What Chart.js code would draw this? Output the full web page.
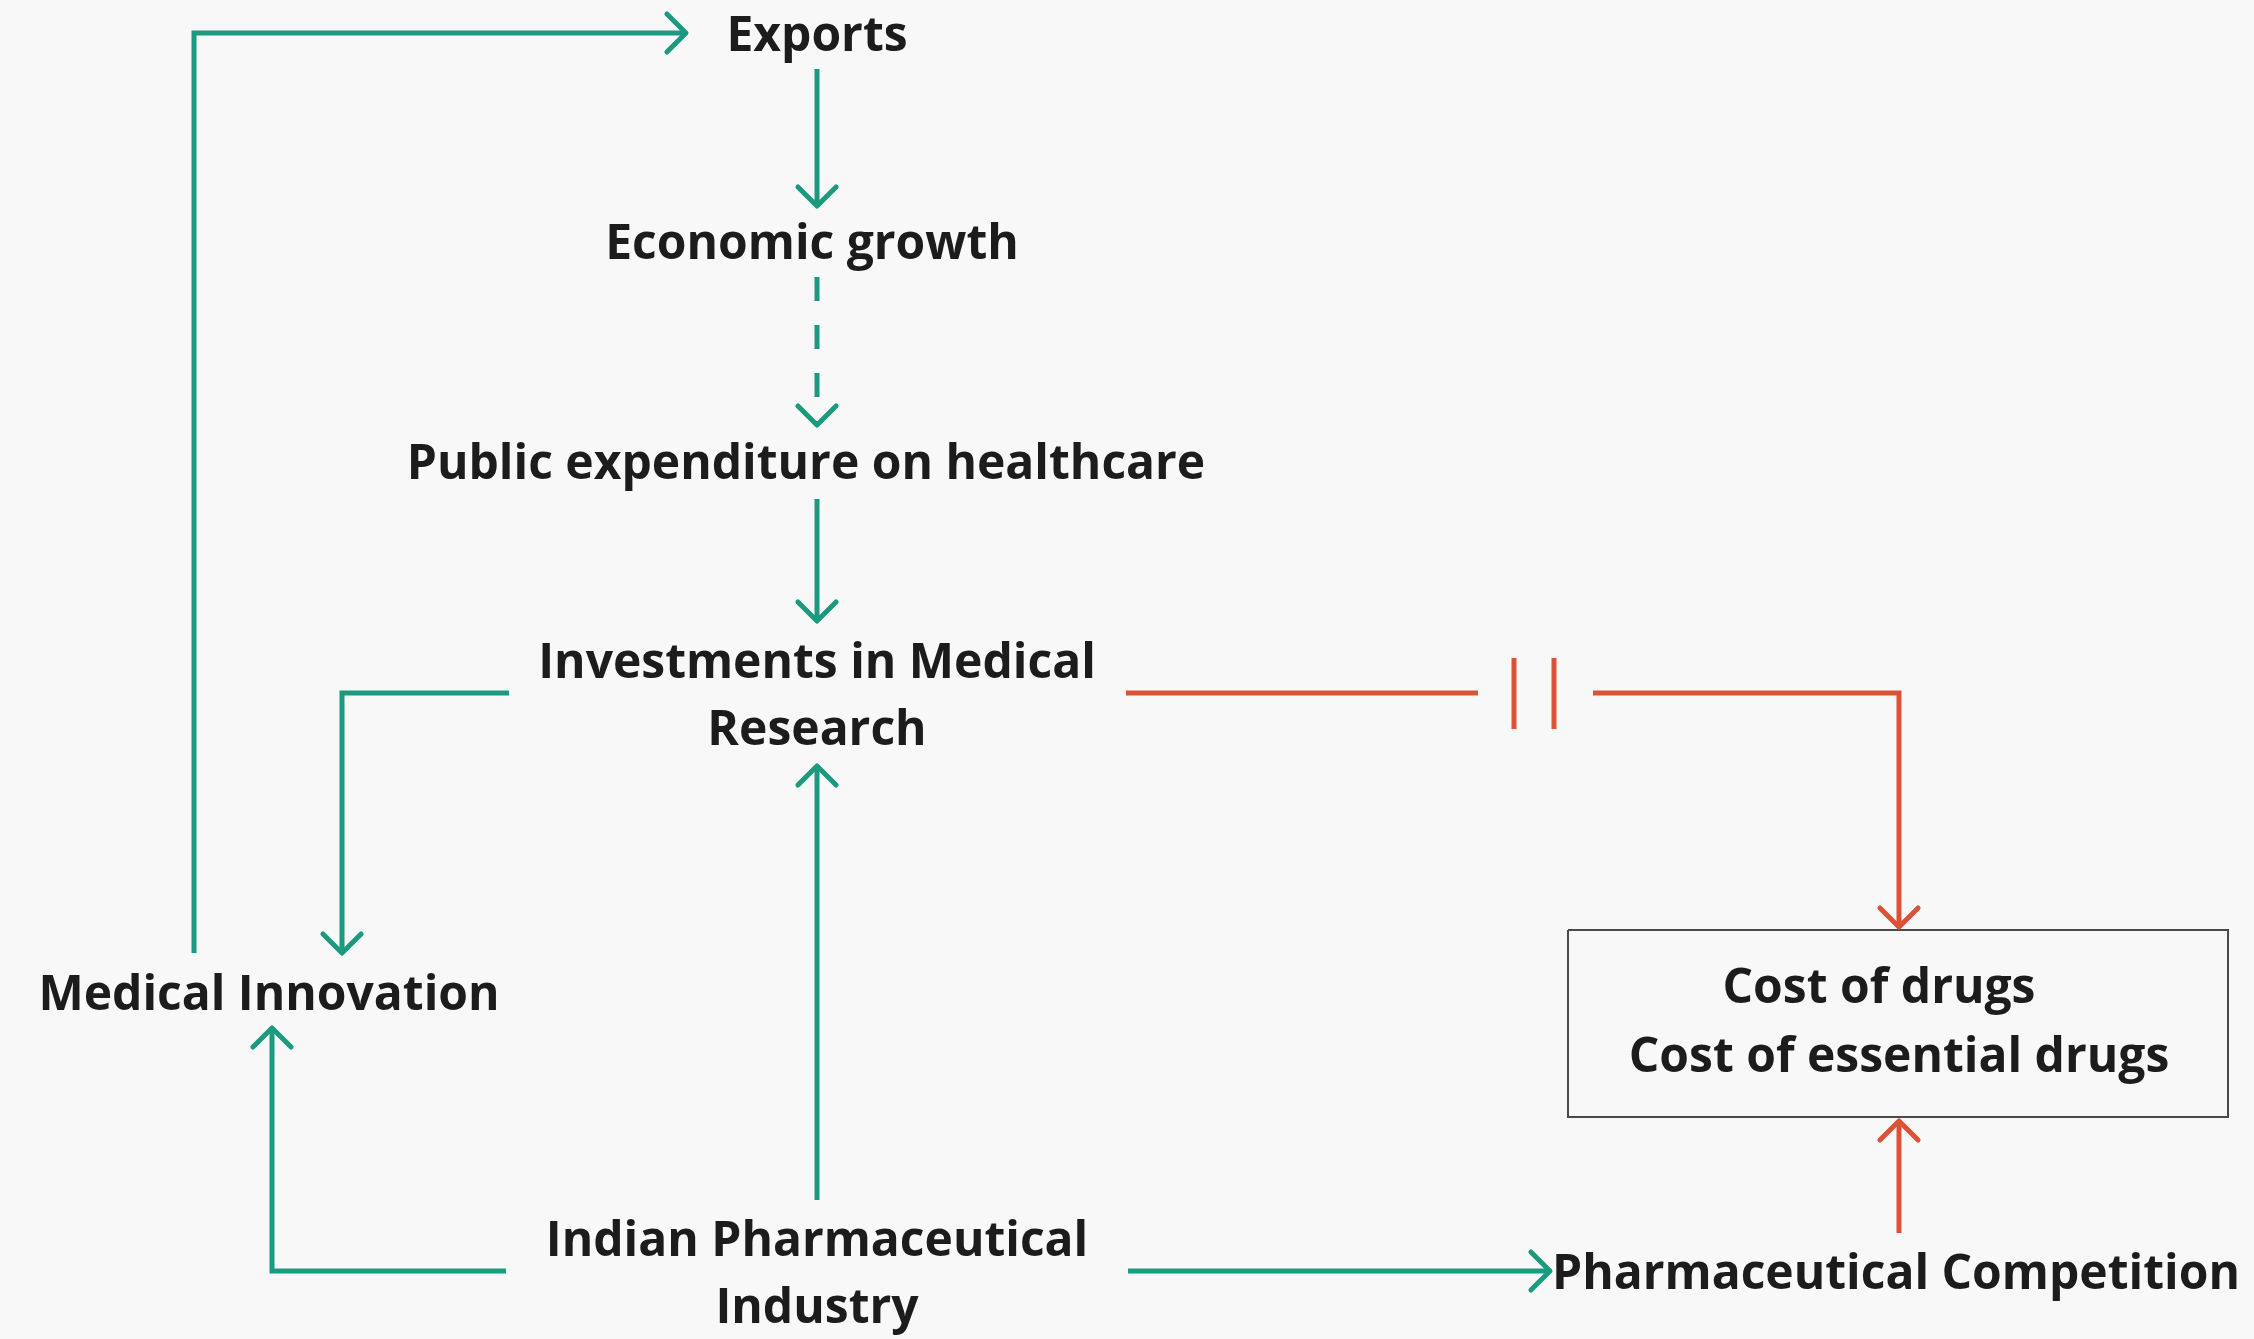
<!DOCTYPE html>
<html>
<head>
<meta charset="utf-8">
<script src="https://cdn.jsdelivr.net/npm/chart.js@4"></script>
<style>
  html, body { margin: 0; padding: 0; background: #f8f8f8; }
  canvas { display: block; }
</style>
</head>
<body>
<canvas id="diagram" width="2254" height="1339"></canvas>
<script>
// node labels (diagram units = reference pixels)
const labelText = [
  'Exports', 'Economic growth', 'Public expenditure on healthcare',
  'Investments in Medical', 'Research', 'Medical Innovation',
  'Cost of drugs', 'Cost of essential drugs',
  'Indian Pharmaceutical', 'Industry', 'Pharmaceutical Competition',
];
const labelX = [817, 812, 806, 817, 817, 269, 1879, 1899, 817, 817, 1896];
const labelY = [37, 245, 465, 664, 731, 996, 989, 1058, 1242, 1309, 1275];

// connectors
const innovationToExports = [[194, 953], [194, 33], [686, 33]];
const exportsToGrowth = [[817, 69], [817, 206]];
const growthToSpending = [[817, 277], [817, 425]];
const spendingToResearch = [[817, 499], [817, 621]];
const researchToInnovation = [[509, 693], [342, 693], [342, 953]];
const industryToResearch = [[817, 1200], [817, 766]];
const industryToInnovation = [[506, 1271], [272, 1271], [272, 1028]];
const industryToCompetition = [[1128, 1271], [1550, 1271]];
const researchToCostA = [[1126, 693], [1478, 693]];
const researchToCostB = [[1593, 693], [1899, 693], [1899, 927]];
const delayMarkA = [[1514, 658], [1514, 729]];
const delayMarkB = [[1554, 658], [1554, 729]];
const competitionToCost = [[1899, 1233], [1899, 1121]];
const costBox = [[1568, 930], [2228, 930], [2228, 1117], [1568, 1117], [1568, 930]];

const GREEN = '#1b9a80';
const RED = '#dc5236';
const TEXT = '#1c1c1c';

function toPoints(path) {
  return path.map(([x, y]) => ({ x, y }));
}

function link(path, color, opts = {}) {
  return {
    data: toPoints(path),
    showLine: true,
    borderColor: color,
    borderWidth: opts.width || 5,
    borderDash: opts.dash || [],
    pointRadius: 0,
    fill: false,
    arrow: opts.arrow !== false,
  };
}

const arrowPlugin = {
  id: 'arrows',
  afterDatasetsDraw(chart) {
    const { ctx, scales: { x, y } } = chart;
    chart.data.datasets.forEach(ds => {
      if (!ds.arrow) return;
      const n = ds.data.length;
      const a = ds.data[n - 2];
      const b = ds.data[n - 1];
      const ax = x.getPixelForValue(a.x), ay = y.getPixelForValue(a.y);
      const bx = x.getPixelForValue(b.x), by = y.getPixelForValue(b.y);
      const ang = Math.atan2(by - ay, bx - ax);
      const arm = 27;
      ctx.save();
      ctx.strokeStyle = ds.borderColor;
      ctx.lineWidth = ds.borderWidth;
      ctx.lineCap = 'round';
      ctx.lineJoin = 'round';
      ctx.beginPath();
      ctx.moveTo(bx - arm * Math.cos(ang - Math.PI / 4), by - arm * Math.sin(ang - Math.PI / 4));
      ctx.lineTo(bx, by);
      ctx.lineTo(bx - arm * Math.cos(ang + Math.PI / 4), by - arm * Math.sin(ang + Math.PI / 4));
      ctx.stroke();
      ctx.restore();
    });
  },
};

const labelPlugin = {
  id: 'labels',
  afterDatasetsDraw(chart) {
    const { ctx, scales: { x, y } } = chart;
    ctx.save();
    ctx.fillStyle = TEXT;
    ctx.font = '700 48px "Open Sans"';
    ctx.textAlign = 'center';
    ctx.textBaseline = 'middle';
    labelText.forEach((text, i) => {
      ctx.fillText(text, x.getPixelForValue(labelX[i]), y.getPixelForValue(labelY[i]));
    });
    ctx.restore();
  },
};

new Chart(document.getElementById('diagram'), {
  type: 'scatter',
  data: {
    datasets: [
      link(innovationToExports, GREEN),
      link(exportsToGrowth, GREEN),
      link(growthToSpending, GREEN, { dash: [24, 24] }),
      link(spendingToResearch, GREEN),
      link(researchToInnovation, GREEN),
      link(industryToResearch, GREEN),
      link(industryToInnovation, GREEN),
      link(industryToCompetition, GREEN),
      link(researchToCostA, RED, { arrow: false }),
      link(researchToCostB, RED),
      link(delayMarkA, RED, { arrow: false }),
      link(delayMarkB, RED, { arrow: false }),
      link(competitionToCost, RED),
      link(costBox, '#4a4a4a', { arrow: false, width: 2 }),
    ],
  },
  options: {
    responsive: false,
    devicePixelRatio: 1,
    animation: false,
    layout: { padding: 0 },
    plugins: { legend: { display: false }, tooltip: { enabled: false } },
    scales: {
      x: { type: 'linear', min: 0, max: 2254, display: false },
      y: { type: 'linear', min: 0, max: 1339, reverse: true, display: false },
    },
  },
  plugins: [arrowPlugin, labelPlugin],
});
</script>
</body>
</html>
